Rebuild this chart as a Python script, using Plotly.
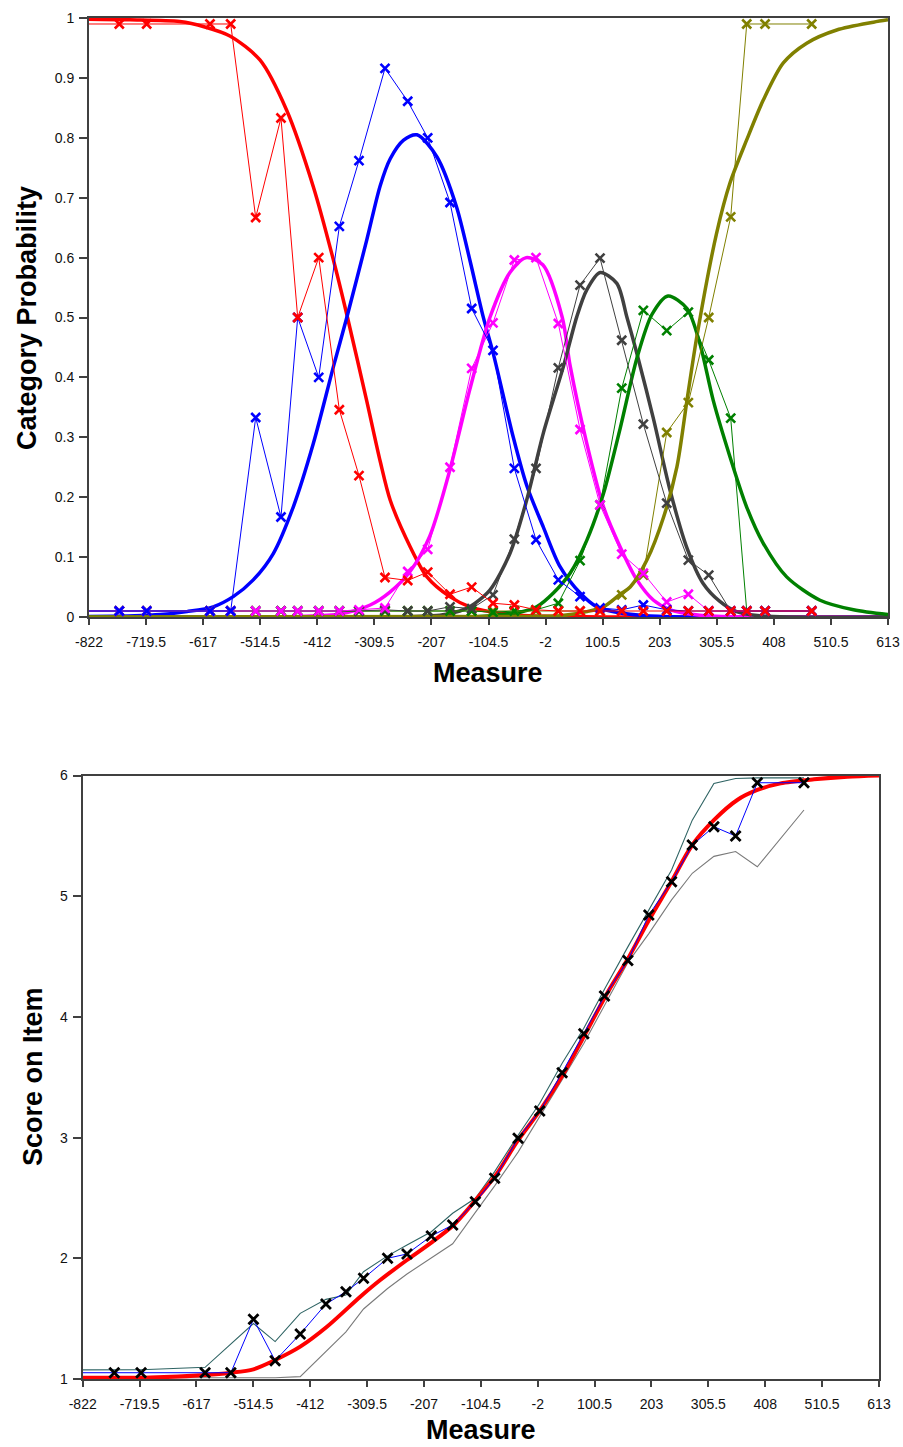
import plotly.graph_objects as go

W, H = 903, 1447

# ---------------- shared axis ticks ----------------
MEASURE_TICKS = [-822, -719.5, -617, -514.5, -412, -309.5, -207, -104.5, -2,
                 100.5, 203, 305.5, 408, 510.5, 613]

# ---------------- category probability: observed points ----------------
OBS_MEASURE = [-870, -767.6, -718.4, -604.7, -567.5, -522.6, -477.2, -447.2, -409.4,
               -372.4, -337.1, -290.4, -249.6, -213.7, -173.6, -134.7, -96.4, -58.1,
               -19.2, 20.9, 59.9, 95.8, 134.8, 173.6, 215.6, 254.4, 291.0, 330.5,
               359.3, 392.2, 476.0]
OBS_CAT1 = [0.99, 0.99, 0.99, 0.99, 0.99, 0.667, 0.833, 0.5, 0.6, 0.346, 0.236, 0.066,
            0.061, 0.075, 0.038, 0.05, 0.023, 0.02, 0.012, 0.01, 0.01, 0.01, 0.01,
            0.01, 0.01, 0.01, 0.01, 0.01, 0.01, 0.01, 0.01]
OBS_CAT2 = [0.01, 0.01, 0.01, 0.01, 0.01, 0.333, 0.167, 0.5, 0.4, 0.652, 0.762, 0.916,
            0.861, 0.80, 0.692, 0.515, 0.445, 0.248, 0.129, 0.062, 0.034, 0.015,
            0.012, 0.02, 0.012, 0.01, 0.01, 0.01, 0.01, 0.01, 0.01]
OBS_CAT3 = [0.01, 0.01, 0.01, 0.01, 0.01, 0.01, 0.01, 0.01, 0.01, 0.01, 0.012, 0.015,
            0.076, 0.113, 0.25, 0.415, 0.491, 0.596, 0.60, 0.49, 0.313, 0.187, 0.105,
            0.073, 0.025, 0.038, 0.01, 0.01, 0.01, 0.01, 0.01]
OBS_CAT4 = [0.01, 0.01, 0.01, 0.01, 0.01, 0.01, 0.01, 0.01, 0.01, 0.01, 0.01, 0.012,
            0.01, 0.01, 0.017, 0.014, 0.037, 0.13, 0.248, 0.416, 0.554, 0.599, 0.462,
            0.322, 0.19, 0.095, 0.07, 0.01, 0.01, 0.01, 0.01]
OBS_CAT5 = [0.01, 0.01, 0.01, 0.01, 0.01, 0.01, 0.01, 0.01, 0.01, 0.01, 0.01, 0.01,
            0.01, 0.01, 0.01, 0.01, 0.008, 0.01, 0.012, 0.023, 0.094, 0.187, 0.382,
            0.512, 0.478, 0.509, 0.429, 0.332, 0.01, 0.01, 0.01]
OBS_CAT6 = [0.01, 0.01, 0.01, 0.01, 0.01, 0.01, 0.01, 0.01, 0.01, 0.01, 0.01, 0.01,
            0.01, 0.01, 0.01, 0.01, 0.01, 0.01, 0.01, 0.01, 0.01, 0.01, 0.037, 0.07,
            0.308, 0.358, 0.5, 0.668, 0.99, 0.99, 0.99]

# ---------------- category probability: model curves ----------------
MOD1_X = [-822, -748, -659, -614, -569, -515, -467, -419, -383, -359, -323, -299,
          -281, -245, -215, -174, -138, -102, -48, 24, 130, 613]
MOD1_Y = [0.998, 0.997, 0.994, 0.985, 0.97, 0.93, 0.846, 0.718, 0.596, 0.505, 0.36,
          0.26, 0.195, 0.117, 0.067, 0.034, 0.017, 0.009, 0.003, 0.001, 0.0, 0.0]

MOD2_X = [-822, -740, -694, -646, -599, -563, -527, -491, -455, -419, -383, -359,
          -323, -299, -281, -257, -233, -197, -162, -138, -114, -96, -60, -36, -6,
          24, 60, 90, 130, 180, 250, 613]
MOD2_Y = [0.001, 0.002, 0.004, 0.009, 0.017, 0.034, 0.062, 0.106, 0.184, 0.29, 0.418,
          0.5, 0.63, 0.72, 0.765, 0.796, 0.805, 0.768, 0.685, 0.596, 0.501, 0.44,
          0.3, 0.22, 0.15, 0.084, 0.04, 0.017, 0.007, 0.002, 0.0, 0.0]

MOD3_X = [-822, -443, -371, -317, -281, -246, -210, -174, -138, -102, -66, -37, -7,
          28, 42, 72, 102, 132, 162, 192, 222, 275, 365, 613]
MOD3_Y = [0.0, 0.001, 0.005, 0.02, 0.042, 0.075, 0.135, 0.245, 0.38, 0.5, 0.575,
          0.60, 0.588, 0.50, 0.42, 0.29, 0.184, 0.117, 0.062, 0.028, 0.012, 0.003,
          0.0, 0.0]

MOD4_X = [-822, -192, -156, -138, -102, -66, -36, -6, 30, 54, 72, 96, 126, 144, 162,
          192, 222, 252, 281, 311, 341, 383, 613]
MOD4_Y = [0.0, 0.003, 0.01, 0.017, 0.045, 0.106, 0.195, 0.307, 0.418, 0.501, 0.546,
          0.575, 0.557, 0.501, 0.44, 0.33, 0.21, 0.115, 0.056, 0.026, 0.009, 0.002,
          0.0]

MOD5_X = [-822, -120, -84, -48, -18, 12, 42, 72, 102, 132, 162, 189, 218, 252, 275,
          299, 329, 359, 389, 431, 491, 551, 613]
MOD5_Y = [0.0, 0.001, 0.004, 0.008, 0.017, 0.04, 0.073, 0.128, 0.206, 0.315, 0.432,
          0.505, 0.536, 0.515, 0.457, 0.362, 0.268, 0.184, 0.123, 0.067, 0.028,
          0.012, 0.004]

MOD6_X = [-822, -12, 24, 72, 102, 132, 150, 180, 210, 234, 252, 270, 305, 329, 359,
          389, 425, 467, 521, 587, 613]
MOD6_Y = [0.0, 0.001, 0.002, 0.009, 0.017, 0.038, 0.05, 0.095, 0.167, 0.251, 0.362,
          0.47, 0.64, 0.724, 0.796, 0.863, 0.925, 0.958, 0.98, 0.993, 0.997]

CAT_COLORS = ["#FF0000", "#0000FF", "#FF00FF", "#404040", "#008000", "#808000"]

# ---------------- expected score: observed, bands and model ----------------
ICC_MEASURE = [-870, -765, -716.8, -601.4, -555, -514.3, -475.2, -430, -383.7, -347.6,
               -315.9, -272.6, -237.6, -193.8, -155.3, -114.4, -79.6, -37.4, 1.6, 42,
               81, 118.3, 160.4, 198.2, 239.2, 276.5, 315.5, 354.6, 393.7, 477.8]
ICC_OBSERVED = [1.052, 1.052, 1.052, 1.052, 1.052, 1.495, 1.152, 1.373, 1.621, 1.723,
                1.834, 2.0, 2.036, 2.185, 2.276, 2.469, 2.663, 2.994, 3.22, 3.538,
                3.861, 4.173, 4.468, 4.844, 5.12, 5.424, 5.576, 5.499, 5.94, 5.94]
ICC_UPPER = [1.075, 1.075, 1.077, 1.097, 1.29, 1.46, 1.31, 1.544, 1.66, 1.696, 1.889,
             2.02, 2.11, 2.22, 2.373, 2.497, 2.718, 3.02, 3.284, 3.616, 3.906, 4.23,
             4.58, 4.886, 5.217, 5.63, 5.934, 5.975, 5.98, 5.98]
ICC_LOWER = [1.01, 1.01, 1.01, 1.01, 1.01, 1.01, 1.01, 1.02, 1.23, 1.39, 1.58, 1.75,
             1.87, 2.0, 2.12, 2.38, 2.6, 2.88, 3.17, 3.48, 3.78, 4.1, 4.45, 4.69, 4.97,
             5.19, 5.33, 5.37, 5.244, 5.714]

ICC_MODEL_X = [-822, -700.6, -601.4, -555, -514.3, -475.2, -430, -381.9, -321.8,
               -285.8, -237.6, -195.6, -153.5, -111.3, -75.3, -39.2, 2.8, 44.9, 80.9,
               123.1, 159.2, 198.2, 237.3, 276.5, 315.4, 357.6, 393.7, 435.7, 495.8,
               556.1, 613]
ICC_MODEL_Y = [1.01, 1.012, 1.033, 1.052, 1.08, 1.157, 1.268, 1.433, 1.682, 1.82,
               1.986, 2.124, 2.276, 2.497, 2.704, 2.966, 3.229, 3.533, 3.836, 4.196,
               4.471, 4.80, 5.107, 5.424, 5.63, 5.797, 5.88, 5.935, 5.968, 5.99, 6.0]

FONT = "Arial, Liberation Sans, sans-serif"

fig = go.Figure()

# model curves (thick, smooth)
model_sets = [(MOD1_X, MOD1_Y), (MOD2_X, MOD2_Y), (MOD3_X, MOD3_Y),
              (MOD4_X, MOD4_Y), (MOD5_X, MOD5_Y), (MOD6_X, MOD6_Y)]
for (mx, my), col in zip(model_sets, CAT_COLORS):
    fig.add_trace(go.Scatter(x=mx, y=my, mode="lines", xaxis="x", yaxis="y",
                             line=dict(color=col, width=3.5, shape="spline",
                                       smoothing=0.8),
                             hoverinfo="skip"))

# observed category frequencies (thin lines with crosses), first category on top
obs_sets = [OBS_CAT1, OBS_CAT2, OBS_CAT3, OBS_CAT4, OBS_CAT5, OBS_CAT6]
for vals, col in reversed(list(zip(obs_sets, CAT_COLORS))):
    fig.add_trace(go.Scatter(x=OBS_MEASURE, y=vals, mode="lines+markers",
                             xaxis="x", yaxis="y",
                             line=dict(color=col, width=1),
                             marker=dict(symbol="x-thin", size=9,
                                         line=dict(color=col, width=2.6))))

# expected score on item
fig.add_trace(go.Scatter(x=ICC_MEASURE, y=ICC_UPPER, mode="lines", xaxis="x2",
                         yaxis="y2", line=dict(color="#2F6464", width=1.1)))
fig.add_trace(go.Scatter(x=ICC_MEASURE, y=ICC_LOWER, mode="lines", xaxis="x2",
                         yaxis="y2", line=dict(color="#7A7A7A", width=1.1)))
fig.add_trace(go.Scatter(x=ICC_MODEL_X, y=ICC_MODEL_Y, mode="lines", xaxis="x2",
                         yaxis="y2",
                         line=dict(color="#FF0000", width=4, shape="spline",
                                   smoothing=0.8)))
fig.add_trace(go.Scatter(x=ICC_MEASURE, y=ICC_OBSERVED, mode="lines+markers",
                         xaxis="x2", yaxis="y2",
                         line=dict(color="#0000FF", width=1),
                         marker=dict(symbol="x-thin", size=10,
                                     line=dict(color="#000000", width=2.8))))

axis_common = dict(showgrid=False, zeroline=False, showline=True, automargin=False,
                   linecolor="#404040", linewidth=2, mirror=True,
                   ticks="outside", tickcolor="#404040", tickwidth=1.5,
                   tickfont=dict(family=FONT, size=14, color="#111111"))

tick_text = [f"{v:g}" for v in MEASURE_TICKS]

fig.update_layout(
    width=W, height=H,
    margin=dict(l=0, r=0, t=0, b=0, autoexpand=False),
    paper_bgcolor="white", plot_bgcolor="white",
    showlegend=False,
    xaxis=dict(domain=[89 / W, 888 / W], range=[-822, 613], anchor="y",
               tickvals=MEASURE_TICKS, ticktext=tick_text, ticklen=6,
               ticklabelstandoff=5, **axis_common),
    yaxis=dict(domain=[1 - 617 / H, 1 - 18 / H], range=[0, 1], anchor="x",
               tick0=0, dtick=0.1, ticklen=8, ticklabelstandoff=2, **axis_common),
    xaxis2=dict(domain=[82.7 / W, 879 / W], range=[-822, 613], anchor="y2",
                tickvals=MEASURE_TICKS, ticktext=tick_text, ticklen=6,
                ticklabelstandoff=5, **axis_common),
    yaxis2=dict(domain=[1 - 1379 / H, 1 - 775.5 / H], range=[1, 6], anchor="x2",
                tick0=1, dtick=1, ticklen=8, ticklabelstandoff=2, **axis_common),
)

title_font = dict(family=FONT, size=27, color="#000000")
fig.add_annotation(text="<b>Measure</b>", x=488 / W, y=1 - 673 / H, xref="paper",
                   yref="paper", showarrow=False, font=title_font,
                   xanchor="center", yanchor="middle")
fig.add_annotation(text="<b>Category Probability</b>", x=27 / W, y=1 - 318 / H,
                   xref="paper", yref="paper", showarrow=False, font=title_font,
                   textangle=-90, xanchor="center", yanchor="middle")
fig.add_annotation(text="<b>Measure</b>", x=481 / W, y=1 - 1430 / H, xref="paper",
                   yref="paper", showarrow=False, font=title_font,
                   xanchor="center", yanchor="middle")
fig.add_annotation(text="<b>Score on Item</b>", x=33 / W, y=1 - 1077 / H,
                   xref="paper", yref="paper", showarrow=False, font=title_font,
                   textangle=-90, xanchor="center", yanchor="middle")

fig.write_html("out.html")
